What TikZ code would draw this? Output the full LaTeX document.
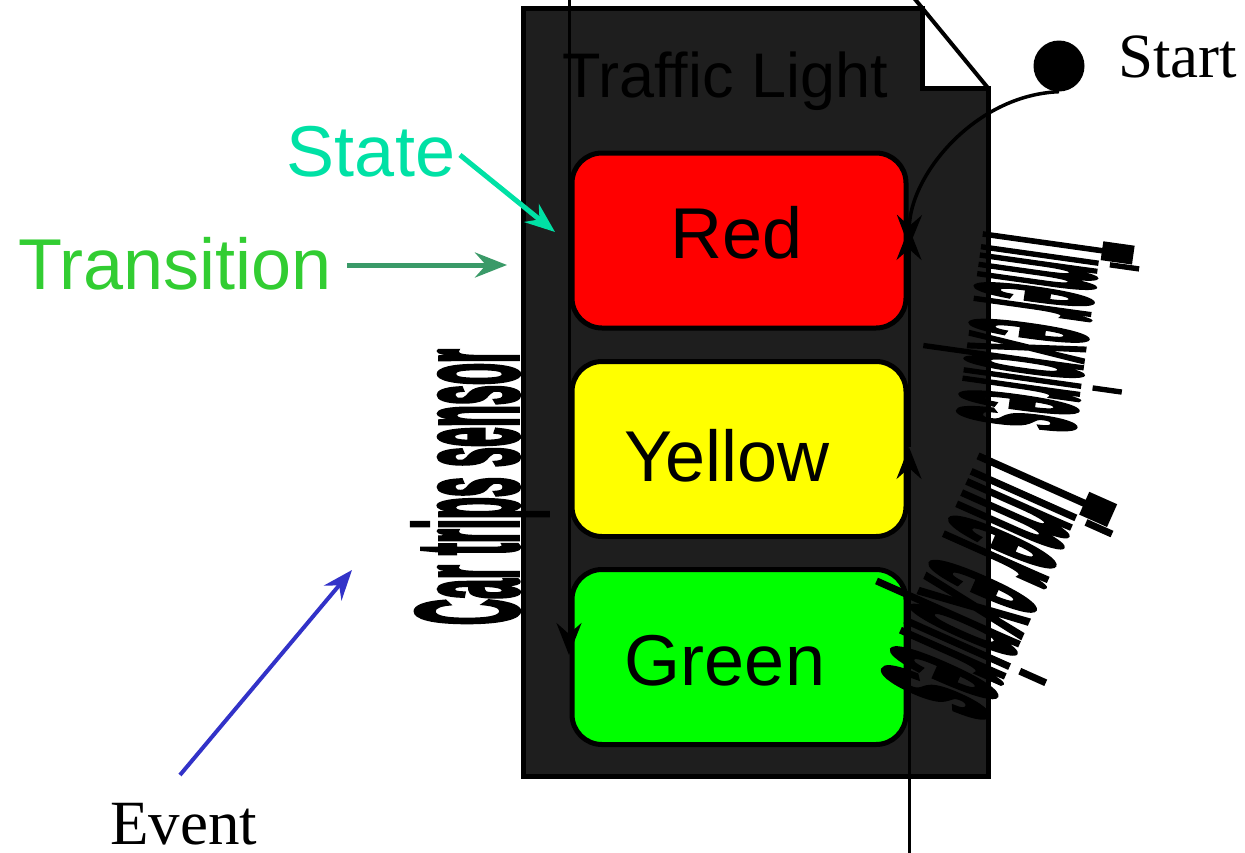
\documentclass[tikz,border=0pt]{standalone}
\usepackage{graphicx}
\usepackage{fontspec}
\setmainfont{Liberation Serif}
\newfontfamily\arialf{Liberation Sans}
\newfontfamily\heavyf{Liberation Sans}[BoldFeatures={FakeBold=4}]
\usetikzlibrary{arrows.meta}
\definecolor{darkfill}{RGB}{30,30,30}
\definecolor{statecol}{RGB}{0,225,165}
\definecolor{transcol}{RGB}{50,205,50}
\definecolor{transarrow}{RGB}{58,154,104}
\definecolor{eventcol}{RGB}{50,50,200}
\definecolor{redfill}{RGB}{255,0,0}
\definecolor{yellowfill}{RGB}{255,255,0}
\definecolor{greenfill}{RGB}{0,255,0}
\begin{document}
\begin{tikzpicture}[x=1pt,y=-1pt,
  bhead/.style={-{Stealth[length=32pt,width=25pt,inset=11pt]}},
  chead/.style={-{Stealth[length=30pt,width=23pt,inset=10pt]}},
  lightbox/.style={draw=black,line width=5pt,rounded corners=30pt,minimum width=334pt,minimum height=175pt,inner sep=0pt},
  sans/.style={font=\arialf\fontsize{72}{80}\selectfont,inner sep=0pt},
  serif/.style={font=\fontsize{63}{70}\selectfont,inner sep=0pt},
  conn/.style={line width=3pt,draw=black}]
\useasboundingbox (0,0) rectangle (1245,852);
% note shape
\draw[line width=5pt,fill=darkfill,line join=miter] (523,8) -- (922,8) -- (922,88) -- (988,88) -- (988,776) -- (523,776) -- cycle;
\coordinate (foldtop) at (914,-2);
\coordinate (foldbot) at (988,88);
\draw[line width=4pt] (foldtop) -- (foldbot);
\node[font=\arialf\fontsize{63}{70}\selectfont,inner sep=0pt,anchor=base,text=black] (title) at (725,97) {Traffic Light};
% states
\node[lightbox,fill=redfill] (red) at (739,240.5) {};
\node[lightbox,fill=yellowfill] (yellow) at (739,449) {};
\node[lightbox,fill=greenfill] (green) at (739,657) {};
\node[sans,anchor=base] (redt) at (737,258) {Red};
\node[sans,anchor=base] (yellowt) at (727,481) {Yellow};
\node[sans,anchor=base] (greent) at (725,685) {Green};
% start
\node[circle,fill=black,minimum size=51pt,inner sep=0pt] (start) at (1059,66) {};
\node[serif,anchor=base west] (startt) at (1118,77) {Start};
\coordinate (redin) at (909,247);
\draw[line width=3.5pt,bhead] (start.south) .. controls (975,95) and (910,175) .. (redin);
% transitions
\coordinate (topin) at (569,-5);
\coordinate (greenin) at (569,655);
\draw[conn,bhead] (topin) -- (greenin);
\coordinate (bottomout) at (909,860);
\coordinate (yellowin) at (909,447);
\coordinate (redin2) at (909,228);
\draw[conn,bhead] (bottomout) -- (yellowin);
\draw[conn,bhead] (yellowin) -- (redin2);
% event texts
\node[rotate=90,anchor=base,inner sep=0pt] (car) at (517,487) {\heavyf\bfseries\fontsize{72}{80}\selectfont\scalebox{0.5}[2.0]{Car trips sensor}};
\node[rotate=-98,inner sep=0pt] (timer1) at (1028,330) {\heavyf\bfseries\fontsize{72}{80}\selectfont\scalebox{0.42}[2.9]{Timer expires}};
\node[rotate=-114,inner sep=0pt] (timer2) at (982,585) {\heavyf\bfseries\fontsize{72}{80}\selectfont\scalebox{0.55}[2.8]{Timer expires}};
% legend
\node[sans,anchor=base,text=statecol] (state) at (371,176) {State};
\coordinate (statetip) at (555,232);
\draw[line width=5pt,statecol,chead] (460,155) -- (statetip);
\node[sans,anchor=base,text=transcol] (trans) at (175,289) {Transition};
\coordinate (transtip) at (507,265);
\draw[line width=5pt,transarrow,bhead] (347,265) -- (transtip);
\node[serif,anchor=base west] (event) at (110,844) {Event};
\coordinate (eventtip) at (352,570);
\coordinate (eventtail) at (180,775);
\draw[line width=4pt,eventcol,chead] (eventtail) -- (eventtip);
\end{tikzpicture}
\end{document}
